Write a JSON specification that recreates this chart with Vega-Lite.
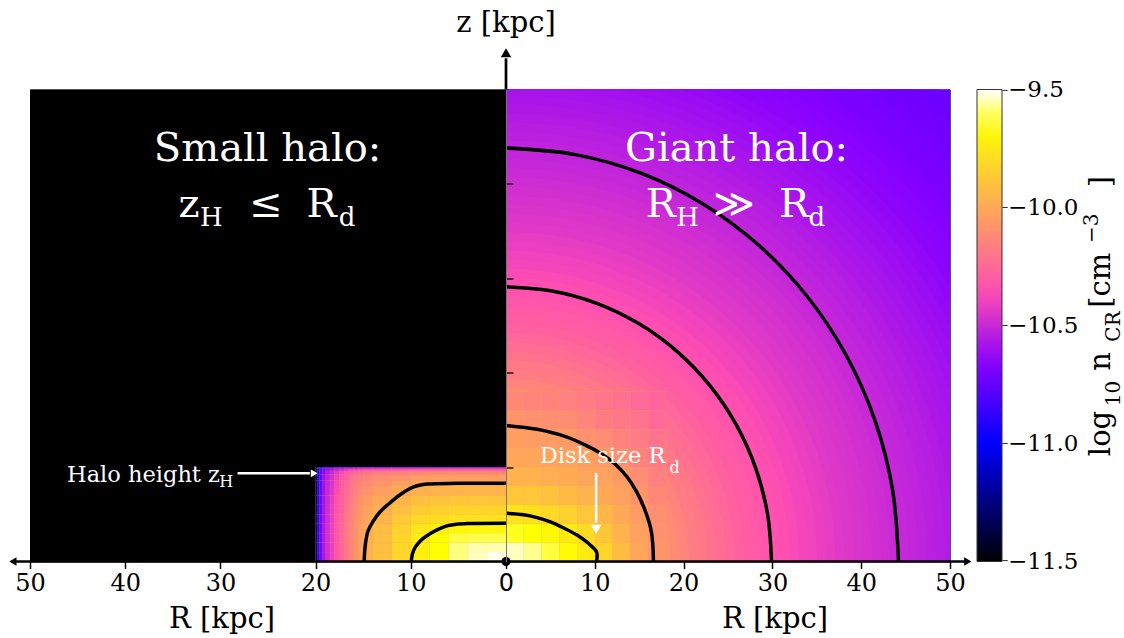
{
"$schema":"https://vega.github.io/schema/vega-lite/v6.json",
"width":920,"height":472,
"autosize":{"type":"none"},
"padding":{"left":30,"top":89.5,"right":174,"bottom":76.5},
"background":"white",
"config":{"view":{"stroke":"#555","strokeWidth":1},"axis":{"grid":false}},
"datasets":{
"panel":[{"R0":-50,"R1":0,"z0":0,"z1":50}],
"rings":[{"r":72,"v":-10.738},{"r":71,"v":-10.733},{"r":70,"v":-10.728},{"r":69,"v":-10.723},{"r":68,"v":-10.718},{"r":67,"v":-10.713},{"r":66,"v":-10.706},{"r":65,"v":-10.699},{"r":64,"v":-10.693},{"r":63,"v":-10.688},{"r":62,"v":-10.675},{"r":61,"v":-10.665},{"r":60,"v":-10.658},{"r":59,"v":-10.653},{"r":58,"v":-10.645},{"r":57,"v":-10.635},{"r":56,"v":-10.625},{"r":55,"v":-10.615},{"r":54,"v":-10.605},{"r":53,"v":-10.595},{"r":52,"v":-10.585},{"r":51,"v":-10.575},{"r":50,"v":-10.565},{"r":49,"v":-10.555},{"r":48,"v":-10.545},{"r":47,"v":-10.535},{"r":46,"v":-10.525},{"r":45,"v":-10.515},{"r":44,"v":-10.505},{"r":43,"v":-10.495},{"r":42,"v":-10.485},{"r":41,"v":-10.475},{"r":40,"v":-10.465},{"r":39,"v":-10.455},{"r":38,"v":-10.445},{"r":37,"v":-10.438},{"r":36,"v":-10.423},{"r":35,"v":-10.413},{"r":34,"v":-10.398},{"r":33,"v":-10.388},{"r":32,"v":-10.373},{"r":31,"v":-10.358},{"r":30,"v":-10.343},{"r":29,"v":-10.328},{"r":28,"v":-10.313},{"r":27,"v":-10.298},{"r":26,"v":-10.28},{"r":25,"v":-10.26},{"r":24,"v":-10.238},{"r":23,"v":-10.213},{"r":22,"v":-10.19},{"r":21,"v":-10.17},{"r":20,"v":-10.145},{"r":19,"v":-10.115},{"r":18,"v":-10.085}],
"core":[
{"R0":0,"R1":18,"z0":0,"z1":18,"v":-10.0},
{"R0":0,"R1":2,"z0":0,"z1":2,"v":-9.54},{"R0":2,"R1":4,"z0":0,"z1":2,"v":-9.57},{"R0":4,"R1":6,"z0":0,"z1":2,"v":-9.62},{"R0":6,"R1":8,"z0":0,"z1":2,"v":-9.68},{"R0":8,"R1":10,"z0":0,"z1":2,"v":-9.74},{"R0":10,"R1":12,"z0":0,"z1":2,"v":-9.83},{"R0":12,"R1":14,"z0":0,"z1":2,"v":-9.92},{"R0":14,"R1":16,"z0":0,"z1":2,"v":-10.01},{"R0":16,"R1":18,"z0":0,"z1":2,"v":-10.08},
{"R0":0,"R1":2,"z0":2,"z1":4,"v":-9.64},{"R0":2,"R1":4,"z0":2,"z1":4,"v":-9.66},{"R0":4,"R1":6,"z0":2,"z1":4,"v":-9.69},{"R0":6,"R1":8,"z0":2,"z1":4,"v":-9.74},{"R0":8,"R1":10,"z0":2,"z1":4,"v":-9.80},{"R0":10,"R1":12,"z0":2,"z1":4,"v":-9.88},{"R0":12,"R1":14,"z0":2,"z1":4,"v":-9.96},{"R0":14,"R1":16,"z0":2,"z1":4,"v":-10.03},{"R0":16,"R1":18,"z0":2,"z1":4,"v":-10.09},
{"R0":0,"R1":2,"z0":4,"z1":6,"v":-9.77},{"R0":2,"R1":4,"z0":4,"z1":6,"v":-9.78},{"R0":4,"R1":6,"z0":4,"z1":6,"v":-9.81},{"R0":6,"R1":8,"z0":4,"z1":6,"v":-9.84},{"R0":8,"R1":10,"z0":4,"z1":6,"v":-9.89},{"R0":10,"R1":12,"z0":4,"z1":6,"v":-9.94},{"R0":12,"R1":14,"z0":4,"z1":6,"v":-10.0},{"R0":14,"R1":16,"z0":4,"z1":6,"v":-10.05},{"R0":16,"R1":18,"z0":4,"z1":6,"v":-10.10},
{"R0":0,"R1":2,"z0":6,"z1":8,"v":-9.88},{"R0":2,"R1":4,"z0":6,"z1":8,"v":-9.89},{"R0":4,"R1":6,"z0":6,"z1":8,"v":-9.90},{"R0":6,"R1":8,"z0":6,"z1":8,"v":-9.93},{"R0":8,"R1":10,"z0":6,"z1":8,"v":-9.96},{"R0":10,"R1":12,"z0":6,"z1":8,"v":-10.0},{"R0":12,"R1":14,"z0":6,"z1":8,"v":-10.03},{"R0":14,"R1":16,"z0":6,"z1":8,"v":-10.08},{"R0":16,"R1":18,"z0":6,"z1":8,"v":-10.13},
{"R0":0,"R1":2,"z0":8,"z1":10,"v":-9.96},{"R0":2,"R1":4,"z0":8,"z1":10,"v":-9.96},{"R0":4,"R1":6,"z0":8,"z1":10,"v":-9.98},{"R0":6,"R1":8,"z0":8,"z1":10,"v":-9.99},{"R0":8,"R1":10,"z0":8,"z1":10,"v":-10.01},{"R0":10,"R1":12,"z0":8,"z1":10,"v":-10.03},{"R0":12,"R1":14,"z0":8,"z1":10,"v":-10.06},{"R0":14,"R1":16,"z0":8,"z1":10,"v":-10.11},{"R0":16,"R1":18,"z0":8,"z1":10,"v":-10.16},
{"R0":0,"R1":2,"z0":10,"z1":12,"v":-10.01},{"R0":2,"R1":4,"z0":10,"z1":12,"v":-10.01},{"R0":4,"R1":6,"z0":10,"z1":12,"v":-10.02},{"R0":6,"R1":8,"z0":10,"z1":12,"v":-10.03},{"R0":8,"R1":10,"z0":10,"z1":12,"v":-10.04},{"R0":10,"R1":12,"z0":10,"z1":12,"v":-10.06},{"R0":12,"R1":14,"z0":10,"z1":12,"v":-10.10},{"R0":14,"R1":16,"z0":10,"z1":12,"v":-10.15},{"R0":16,"R1":18,"z0":10,"z1":12,"v":-10.18},
{"R0":0,"R1":2,"z0":12,"z1":14,"v":-10.04},{"R0":2,"R1":4,"z0":12,"z1":14,"v":-10.05},{"R0":4,"R1":6,"z0":12,"z1":14,"v":-10.05},{"R0":6,"R1":8,"z0":12,"z1":14,"v":-10.06},{"R0":8,"R1":10,"z0":12,"z1":14,"v":-10.09},{"R0":10,"R1":12,"z0":12,"z1":14,"v":-10.11},{"R0":12,"R1":14,"z0":12,"z1":14,"v":-10.15},{"R0":14,"R1":16,"z0":12,"z1":14,"v":-10.18},{"R0":16,"R1":18,"z0":12,"z1":14,"v":-10.21},
{"R0":0,"R1":2,"z0":14,"z1":16,"v":-10.08},{"R0":2,"R1":4,"z0":14,"z1":16,"v":-10.09},{"R0":4,"R1":6,"z0":14,"z1":16,"v":-10.10},{"R0":6,"R1":8,"z0":14,"z1":16,"v":-10.11},{"R0":8,"R1":10,"z0":14,"z1":16,"v":-10.14},{"R0":10,"R1":12,"z0":14,"z1":16,"v":-10.17},{"R0":12,"R1":14,"z0":14,"z1":16,"v":-10.19},{"R0":14,"R1":16,"z0":14,"z1":16,"v":-10.21},{"R0":16,"R1":18,"z0":14,"z1":16,"v":-10.25},
{"R0":0,"R1":2,"z0":16,"z1":18,"v":-10.13},{"R0":2,"R1":4,"z0":16,"z1":18,"v":-10.14},{"R0":4,"R1":6,"z0":16,"z1":18,"v":-10.15},{"R0":6,"R1":8,"z0":16,"z1":18,"v":-10.16},{"R0":8,"R1":10,"z0":16,"z1":18,"v":-10.18},{"R0":10,"R1":12,"z0":16,"z1":18,"v":-10.20},{"R0":12,"R1":14,"z0":16,"z1":18,"v":-10.22},{"R0":14,"R1":16,"z0":16,"z1":18,"v":-10.25},{"R0":16,"R1":18,"z0":16,"z1":18,"v":-10.27}
],
"halo":[
{"R0":-20,"R1":0,"z0":0,"z1":10,"v":-10.05},
{"R0":-2,"R1":0,"z0":0,"z1":1,"v":-9.51},{"R0":-4,"R1":-2,"z0":0,"z1":1,"v":-9.54},{"R0":-6,"R1":-4,"z0":0,"z1":1,"v":-9.58},{"R0":-8,"R1":-6,"z0":0,"z1":1,"v":-9.66},{"R0":-10,"R1":-8,"z0":0,"z1":1,"v":-9.72},{"R0":-12,"R1":-10,"z0":0,"z1":1,"v":-9.82},{"R0":-14,"R1":-12,"z0":0,"z1":1,"v":-9.91},
{"R0":-14.5,"R1":-14,"z0":0,"z1":1,"v":-9.97},{"R0":-15,"R1":-14.5,"z0":0,"z1":1,"v":-9.99},{"R0":-15.5,"R1":-15,"z0":0,"z1":1,"v":-10.03},{"R0":-16,"R1":-15.5,"z0":0,"z1":1,"v":-10.08},{"R0":-16.5,"R1":-16,"z0":0,"z1":1,"v":-10.13},{"R0":-17,"R1":-16.5,"z0":0,"z1":1,"v":-10.19},{"R0":-17.5,"R1":-17,"z0":0,"z1":1,"v":-10.26},{"R0":-18,"R1":-17.5,"z0":0,"z1":1,"v":-10.33},{"R0":-18.5,"R1":-18,"z0":0,"z1":1,"v":-10.40},{"R0":-19,"R1":-18.5,"z0":0,"z1":1,"v":-10.48},{"R0":-19.3,"R1":-19,"z0":0,"z1":1,"v":-10.58},{"R0":-19.6,"R1":-19.3,"z0":0,"z1":1,"v":-10.70},{"R0":-19.8,"R1":-19.6,"z0":0,"z1":1,"v":-10.91},{"R0":-20,"R1":-19.8,"z0":0,"z1":1,"v":-11.25},
{"R0":-2,"R1":0,"z0":1,"z1":2,"v":-9.55},{"R0":-4,"R1":-2,"z0":1,"z1":2,"v":-9.55},{"R0":-6,"R1":-4,"z0":1,"z1":2,"v":-9.58},{"R0":-8,"R1":-6,"z0":1,"z1":2,"v":-9.66},{"R0":-10,"R1":-8,"z0":1,"z1":2,"v":-9.72},{"R0":-12,"R1":-10,"z0":1,"z1":2,"v":-9.82},{"R0":-14,"R1":-12,"z0":1,"z1":2,"v":-9.91},
{"R0":-14.5,"R1":-14,"z0":1,"z1":2,"v":-9.97},{"R0":-15,"R1":-14.5,"z0":1,"z1":2,"v":-9.99},{"R0":-15.5,"R1":-15,"z0":1,"z1":2,"v":-10.03},{"R0":-16,"R1":-15.5,"z0":1,"z1":2,"v":-10.08},{"R0":-16.5,"R1":-16,"z0":1,"z1":2,"v":-10.13},{"R0":-17,"R1":-16.5,"z0":1,"z1":2,"v":-10.19},{"R0":-17.5,"R1":-17,"z0":1,"z1":2,"v":-10.26},{"R0":-18,"R1":-17.5,"z0":1,"z1":2,"v":-10.33},{"R0":-18.5,"R1":-18,"z0":1,"z1":2,"v":-10.40},{"R0":-19,"R1":-18.5,"z0":1,"z1":2,"v":-10.48},{"R0":-19.3,"R1":-19,"z0":1,"z1":2,"v":-10.58},{"R0":-19.6,"R1":-19.3,"z0":1,"z1":2,"v":-10.70},{"R0":-19.8,"R1":-19.6,"z0":1,"z1":2,"v":-10.91},{"R0":-20,"R1":-19.8,"z0":1,"z1":2,"v":-11.25},
{"R0":-2,"R1":0,"z0":2,"z1":3,"v":-9.61},{"R0":-4,"R1":-2,"z0":2,"z1":3,"v":-9.61},{"R0":-6,"R1":-4,"z0":2,"z1":3,"v":-9.62},{"R0":-8,"R1":-6,"z0":2,"z1":3,"v":-9.67},{"R0":-10,"R1":-8,"z0":2,"z1":3,"v":-9.73},{"R0":-12,"R1":-10,"z0":2,"z1":3,"v":-9.82},{"R0":-14,"R1":-12,"z0":2,"z1":3,"v":-9.91},
{"R0":-14.5,"R1":-14,"z0":2,"z1":3,"v":-9.97},{"R0":-15,"R1":-14.5,"z0":2,"z1":3,"v":-9.99},{"R0":-15.5,"R1":-15,"z0":2,"z1":3,"v":-10.03},{"R0":-16,"R1":-15.5,"z0":2,"z1":3,"v":-10.08},{"R0":-16.5,"R1":-16,"z0":2,"z1":3,"v":-10.13},{"R0":-17,"R1":-16.5,"z0":2,"z1":3,"v":-10.19},{"R0":-17.5,"R1":-17,"z0":2,"z1":3,"v":-10.26},{"R0":-18,"R1":-17.5,"z0":2,"z1":3,"v":-10.33},{"R0":-18.5,"R1":-18,"z0":2,"z1":3,"v":-10.40},{"R0":-19,"R1":-18.5,"z0":2,"z1":3,"v":-10.48},{"R0":-19.3,"R1":-19,"z0":2,"z1":3,"v":-10.58},{"R0":-19.6,"R1":-19.3,"z0":2,"z1":3,"v":-10.70},{"R0":-19.8,"R1":-19.6,"z0":2,"z1":3,"v":-10.91},{"R0":-20,"R1":-19.8,"z0":2,"z1":3,"v":-11.25},
{"R0":-2,"R1":0,"z0":3,"z1":4,"v":-9.69},{"R0":-4,"R1":-2,"z0":3,"z1":4,"v":-9.69},{"R0":-6,"R1":-4,"z0":3,"z1":4,"v":-9.69},{"R0":-8,"R1":-6,"z0":3,"z1":4,"v":-9.72},{"R0":-10,"R1":-8,"z0":3,"z1":4,"v":-9.76},{"R0":-12,"R1":-10,"z0":3,"z1":4,"v":-9.84},{"R0":-14,"R1":-12,"z0":3,"z1":4,"v":-9.92},
{"R0":-14.5,"R1":-14,"z0":3,"z1":4,"v":-9.98},{"R0":-15,"R1":-14.5,"z0":3,"z1":4,"v":-10.0},{"R0":-15.5,"R1":-15,"z0":3,"z1":4,"v":-10.03},{"R0":-16,"R1":-15.5,"z0":3,"z1":4,"v":-10.08},{"R0":-16.5,"R1":-16,"z0":3,"z1":4,"v":-10.14},{"R0":-17,"R1":-16.5,"z0":3,"z1":4,"v":-10.19},{"R0":-17.5,"R1":-17,"z0":3,"z1":4,"v":-10.26},{"R0":-18,"R1":-17.5,"z0":3,"z1":4,"v":-10.33},{"R0":-18.5,"R1":-18,"z0":3,"z1":4,"v":-10.40},{"R0":-19,"R1":-18.5,"z0":3,"z1":4,"v":-10.48},{"R0":-19.3,"R1":-19,"z0":3,"z1":4,"v":-10.58},{"R0":-19.6,"R1":-19.3,"z0":3,"z1":4,"v":-10.70},{"R0":-19.8,"R1":-19.6,"z0":3,"z1":4,"v":-10.91},{"R0":-20,"R1":-19.8,"z0":3,"z1":4,"v":-11.25},
{"R0":-2,"R1":0,"z0":4,"z1":5,"v":-9.77},{"R0":-4,"R1":-2,"z0":4,"z1":5,"v":-9.77},{"R0":-6,"R1":-4,"z0":4,"z1":5,"v":-9.77},{"R0":-8,"R1":-6,"z0":4,"z1":5,"v":-9.79},{"R0":-10,"R1":-8,"z0":4,"z1":5,"v":-9.81},{"R0":-12,"R1":-10,"z0":4,"z1":5,"v":-9.87},{"R0":-14,"R1":-12,"z0":4,"z1":5,"v":-9.95},
{"R0":-14.5,"R1":-14,"z0":4,"z1":5,"v":-9.99},{"R0":-15,"R1":-14.5,"z0":4,"z1":5,"v":-10.02},{"R0":-15.5,"R1":-15,"z0":4,"z1":5,"v":-10.05},{"R0":-16,"R1":-15.5,"z0":4,"z1":5,"v":-10.09},{"R0":-16.5,"R1":-16,"z0":4,"z1":5,"v":-10.15},{"R0":-17,"R1":-16.5,"z0":4,"z1":5,"v":-10.20},{"R0":-17.5,"R1":-17,"z0":4,"z1":5,"v":-10.27},{"R0":-18,"R1":-17.5,"z0":4,"z1":5,"v":-10.33},{"R0":-18.5,"R1":-18,"z0":4,"z1":5,"v":-10.41},{"R0":-19,"R1":-18.5,"z0":4,"z1":5,"v":-10.49},{"R0":-19.3,"R1":-19,"z0":4,"z1":5,"v":-10.59},{"R0":-19.6,"R1":-19.3,"z0":4,"z1":5,"v":-10.70},{"R0":-19.8,"R1":-19.6,"z0":4,"z1":5,"v":-10.91},{"R0":-20,"R1":-19.8,"z0":4,"z1":5,"v":-11.25},
{"R0":-2,"R1":0,"z0":5,"z1":6,"v":-9.83},{"R0":-4,"R1":-2,"z0":5,"z1":6,"v":-9.83},{"R0":-6,"R1":-4,"z0":5,"z1":6,"v":-9.83},{"R0":-8,"R1":-6,"z0":5,"z1":6,"v":-9.84},{"R0":-10,"R1":-8,"z0":5,"z1":6,"v":-9.86},{"R0":-12,"R1":-10,"z0":5,"z1":6,"v":-9.91},{"R0":-14,"R1":-12,"z0":5,"z1":6,"v":-9.97},
{"R0":-14.5,"R1":-14,"z0":5,"z1":6,"v":-10.02},{"R0":-15,"R1":-14.5,"z0":5,"z1":6,"v":-10.03},{"R0":-15.5,"R1":-15,"z0":5,"z1":6,"v":-10.07},{"R0":-16,"R1":-15.5,"z0":5,"z1":6,"v":-10.11},{"R0":-16.5,"R1":-16,"z0":5,"z1":6,"v":-10.16},{"R0":-17,"R1":-16.5,"z0":5,"z1":6,"v":-10.21},{"R0":-17.5,"R1":-17,"z0":5,"z1":6,"v":-10.28},{"R0":-18,"R1":-17.5,"z0":5,"z1":6,"v":-10.34},{"R0":-18.5,"R1":-18,"z0":5,"z1":6,"v":-10.41},{"R0":-19,"R1":-18.5,"z0":5,"z1":6,"v":-10.49},{"R0":-19.3,"R1":-19,"z0":5,"z1":6,"v":-10.59},{"R0":-19.6,"R1":-19.3,"z0":5,"z1":6,"v":-10.71},{"R0":-19.8,"R1":-19.6,"z0":5,"z1":6,"v":-10.92},{"R0":-20,"R1":-19.8,"z0":5,"z1":6,"v":-11.26},
{"R0":-2,"R1":0,"z0":6,"z1":7,"v":-9.89},{"R0":-4,"R1":-2,"z0":6,"z1":7,"v":-9.89},{"R0":-6,"R1":-4,"z0":6,"z1":7,"v":-9.89},{"R0":-8,"R1":-6,"z0":6,"z1":7,"v":-9.90},{"R0":-10,"R1":-8,"z0":6,"z1":7,"v":-9.91},{"R0":-12,"R1":-10,"z0":6,"z1":7,"v":-9.95},{"R0":-14,"R1":-12,"z0":6,"z1":7,"v":-10.0},
{"R0":-14.5,"R1":-14,"z0":6,"z1":7,"v":-10.04},{"R0":-15,"R1":-14.5,"z0":6,"z1":7,"v":-10.06},{"R0":-15.5,"R1":-15,"z0":6,"z1":7,"v":-10.09},{"R0":-16,"R1":-15.5,"z0":6,"z1":7,"v":-10.13},{"R0":-16.5,"R1":-16,"z0":6,"z1":7,"v":-10.18},{"R0":-17,"R1":-16.5,"z0":6,"z1":7,"v":-10.23},{"R0":-17.5,"R1":-17,"z0":6,"z1":7,"v":-10.29},{"R0":-18,"R1":-17.5,"z0":6,"z1":7,"v":-10.35},{"R0":-18.5,"R1":-18,"z0":6,"z1":7,"v":-10.42},{"R0":-19,"R1":-18.5,"z0":6,"z1":7,"v":-10.50},{"R0":-19.3,"R1":-19,"z0":6,"z1":7,"v":-10.60},{"R0":-19.6,"R1":-19.3,"z0":6,"z1":7,"v":-10.71},{"R0":-19.8,"R1":-19.6,"z0":6,"z1":7,"v":-10.92},{"R0":-20,"R1":-19.8,"z0":6,"z1":7,"v":-11.26},
{"R0":-2,"R1":0,"z0":7,"z1":8,"v":-9.95},{"R0":-4,"R1":-2,"z0":7,"z1":8,"v":-9.95},{"R0":-6,"R1":-4,"z0":7,"z1":8,"v":-9.95},{"R0":-8,"R1":-6,"z0":7,"z1":8,"v":-9.96},{"R0":-10,"R1":-8,"z0":7,"z1":8,"v":-9.97},{"R0":-12,"R1":-10,"z0":7,"z1":8,"v":-10.0},{"R0":-14,"R1":-12,"z0":7,"z1":8,"v":-10.04},
{"R0":-14.5,"R1":-14,"z0":7,"z1":8,"v":-10.08},{"R0":-15,"R1":-14.5,"z0":7,"z1":8,"v":-10.09},{"R0":-15.5,"R1":-15,"z0":7,"z1":8,"v":-10.12},{"R0":-16,"R1":-15.5,"z0":7,"z1":8,"v":-10.16},{"R0":-16.5,"R1":-16,"z0":7,"z1":8,"v":-10.20},{"R0":-17,"R1":-16.5,"z0":7,"z1":8,"v":-10.25},{"R0":-17.5,"R1":-17,"z0":7,"z1":8,"v":-10.30},{"R0":-18,"R1":-17.5,"z0":7,"z1":8,"v":-10.37},{"R0":-18.5,"R1":-18,"z0":7,"z1":8,"v":-10.44},{"R0":-19,"R1":-18.5,"z0":7,"z1":8,"v":-10.51},{"R0":-19.3,"R1":-19,"z0":7,"z1":8,"v":-10.61},{"R0":-19.6,"R1":-19.3,"z0":7,"z1":8,"v":-10.72},{"R0":-19.8,"R1":-19.6,"z0":7,"z1":8,"v":-10.93},{"R0":-20,"R1":-19.8,"z0":7,"z1":8,"v":-11.26},
{"R0":-2,"R1":0,"z0":8,"z1":8.6,"v":-10.0},{"R0":-4,"R1":-2,"z0":8,"z1":8.6,"v":-10.0},{"R0":-6,"R1":-4,"z0":8,"z1":8.6,"v":-10.0},{"R0":-8,"R1":-6,"z0":8,"z1":8.6,"v":-10.0},{"R0":-10,"R1":-8,"z0":8,"z1":8.6,"v":-10.01},{"R0":-12,"R1":-10,"z0":8,"z1":8.6,"v":-10.04},{"R0":-14,"R1":-12,"z0":8,"z1":8.6,"v":-10.08},
{"R0":-14.5,"R1":-14,"z0":8,"z1":8.6,"v":-10.11},{"R0":-15,"R1":-14.5,"z0":8,"z1":8.6,"v":-10.12},{"R0":-15.5,"R1":-15,"z0":8,"z1":8.6,"v":-10.14},{"R0":-16,"R1":-15.5,"z0":8,"z1":8.6,"v":-10.18},{"R0":-16.5,"R1":-16,"z0":8,"z1":8.6,"v":-10.22},{"R0":-17,"R1":-16.5,"z0":8,"z1":8.6,"v":-10.27},{"R0":-17.5,"R1":-17,"z0":8,"z1":8.6,"v":-10.32},{"R0":-18,"R1":-17.5,"z0":8,"z1":8.6,"v":-10.38},{"R0":-18.5,"R1":-18,"z0":8,"z1":8.6,"v":-10.45},{"R0":-19,"R1":-18.5,"z0":8,"z1":8.6,"v":-10.52},{"R0":-19.3,"R1":-19,"z0":8,"z1":8.6,"v":-10.61},{"R0":-19.6,"R1":-19.3,"z0":8,"z1":8.6,"v":-10.73},{"R0":-19.8,"R1":-19.6,"z0":8,"z1":8.6,"v":-10.93},{"R0":-20,"R1":-19.8,"z0":8,"z1":8.6,"v":-11.26},
{"R0":-2,"R1":0,"z0":8.6,"z1":9.2,"v":-10.04},{"R0":-4,"R1":-2,"z0":8.6,"z1":9.2,"v":-10.04},{"R0":-6,"R1":-4,"z0":8.6,"z1":9.2,"v":-10.04},{"R0":-8,"R1":-6,"z0":8.6,"z1":9.2,"v":-10.04},{"R0":-10,"R1":-8,"z0":8.6,"z1":9.2,"v":-10.05},{"R0":-12,"R1":-10,"z0":8.6,"z1":9.2,"v":-10.08},{"R0":-14,"R1":-12,"z0":8.6,"z1":9.2,"v":-10.11},
{"R0":-14.5,"R1":-14,"z0":8.6,"z1":9.2,"v":-10.14},{"R0":-15,"R1":-14.5,"z0":8.6,"z1":9.2,"v":-10.15},{"R0":-15.5,"R1":-15,"z0":8.6,"z1":9.2,"v":-10.17},{"R0":-16,"R1":-15.5,"z0":8.6,"z1":9.2,"v":-10.20},{"R0":-16.5,"R1":-16,"z0":8.6,"z1":9.2,"v":-10.24},{"R0":-17,"R1":-16.5,"z0":8.6,"z1":9.2,"v":-10.29},{"R0":-17.5,"R1":-17,"z0":8.6,"z1":9.2,"v":-10.34},{"R0":-18,"R1":-17.5,"z0":8.6,"z1":9.2,"v":-10.40},{"R0":-18.5,"R1":-18,"z0":8.6,"z1":9.2,"v":-10.46},{"R0":-19,"R1":-18.5,"z0":8.6,"z1":9.2,"v":-10.53},{"R0":-19.3,"R1":-19,"z0":8.6,"z1":9.2,"v":-10.62},{"R0":-19.6,"R1":-19.3,"z0":8.6,"z1":9.2,"v":-10.74},{"R0":-19.8,"R1":-19.6,"z0":8.6,"z1":9.2,"v":-10.94},{"R0":-20,"R1":-19.8,"z0":8.6,"z1":9.2,"v":-11.26},
{"R0":-2,"R1":0,"z0":9.2,"z1":9.6,"v":-10.13},{"R0":-4,"R1":-2,"z0":9.2,"z1":9.6,"v":-10.13},{"R0":-6,"R1":-4,"z0":9.2,"z1":9.6,"v":-10.13},{"R0":-8,"R1":-6,"z0":9.2,"z1":9.6,"v":-10.13},{"R0":-10,"R1":-8,"z0":9.2,"z1":9.6,"v":-10.14},{"R0":-12,"R1":-10,"z0":9.2,"z1":9.6,"v":-10.16},{"R0":-14,"R1":-12,"z0":9.2,"z1":9.6,"v":-10.18},
{"R0":-14.5,"R1":-14,"z0":9.2,"z1":9.6,"v":-10.21},{"R0":-15,"R1":-14.5,"z0":9.2,"z1":9.6,"v":-10.22},{"R0":-15.5,"R1":-15,"z0":9.2,"z1":9.6,"v":-10.23},{"R0":-16,"R1":-15.5,"z0":9.2,"z1":9.6,"v":-10.26},{"R0":-16.5,"R1":-16,"z0":9.2,"z1":9.6,"v":-10.29},{"R0":-17,"R1":-16.5,"z0":9.2,"z1":9.6,"v":-10.33},{"R0":-17.5,"R1":-17,"z0":9.2,"z1":9.6,"v":-10.38},{"R0":-18,"R1":-17.5,"z0":9.2,"z1":9.6,"v":-10.43},{"R0":-18.5,"R1":-18,"z0":9.2,"z1":9.6,"v":-10.49},{"R0":-19,"R1":-18.5,"z0":9.2,"z1":9.6,"v":-10.56},{"R0":-19.3,"R1":-19,"z0":9.2,"z1":9.6,"v":-10.65},{"R0":-19.6,"R1":-19.3,"z0":9.2,"z1":9.6,"v":-10.76},{"R0":-19.8,"R1":-19.6,"z0":9.2,"z1":9.6,"v":-10.95},{"R0":-20,"R1":-19.8,"z0":9.2,"z1":9.6,"v":-11.28},
{"R0":-2,"R1":0,"z0":9.6,"z1":9.85,"v":-10.30},{"R0":-4,"R1":-2,"z0":9.6,"z1":9.85,"v":-10.30},{"R0":-6,"R1":-4,"z0":9.6,"z1":9.85,"v":-10.30},{"R0":-8,"R1":-6,"z0":9.6,"z1":9.85,"v":-10.30},{"R0":-10,"R1":-8,"z0":9.6,"z1":9.85,"v":-10.31},{"R0":-12,"R1":-10,"z0":9.6,"z1":9.85,"v":-10.32},{"R0":-14,"R1":-12,"z0":9.6,"z1":9.85,"v":-10.33},
{"R0":-14.5,"R1":-14,"z0":9.6,"z1":9.85,"v":-10.35},{"R0":-15,"R1":-14.5,"z0":9.6,"z1":9.85,"v":-10.36},{"R0":-15.5,"R1":-15,"z0":9.6,"z1":9.85,"v":-10.37},{"R0":-16,"R1":-15.5,"z0":9.6,"z1":9.85,"v":-10.39},{"R0":-16.5,"R1":-16,"z0":9.6,"z1":9.85,"v":-10.41},{"R0":-17,"R1":-16.5,"z0":9.6,"z1":9.85,"v":-10.44},{"R0":-17.5,"R1":-17,"z0":9.6,"z1":9.85,"v":-10.48},{"R0":-18,"R1":-17.5,"z0":9.6,"z1":9.85,"v":-10.52},{"R0":-18.5,"R1":-18,"z0":9.6,"z1":9.85,"v":-10.57},{"R0":-19,"R1":-18.5,"z0":9.6,"z1":9.85,"v":-10.63},{"R0":-19.3,"R1":-19,"z0":9.6,"z1":9.85,"v":-10.71},{"R0":-19.6,"R1":-19.3,"z0":9.6,"z1":9.85,"v":-10.81},{"R0":-19.8,"R1":-19.6,"z0":9.6,"z1":9.85,"v":-10.99},{"R0":-20,"R1":-19.8,"z0":9.6,"z1":9.85,"v":-11.30},
{"R0":-2,"R1":0,"z0":9.85,"z1":10,"v":-10.60},{"R0":-4,"R1":-2,"z0":9.85,"z1":10,"v":-10.60},{"R0":-6,"R1":-4,"z0":9.85,"z1":10,"v":-10.60},{"R0":-8,"R1":-6,"z0":9.85,"z1":10,"v":-10.60},{"R0":-10,"R1":-8,"z0":9.85,"z1":10,"v":-10.60},{"R0":-12,"R1":-10,"z0":9.85,"z1":10,"v":-10.61},{"R0":-14,"R1":-12,"z0":9.85,"z1":10,"v":-10.62},
{"R0":-14.5,"R1":-14,"z0":9.85,"z1":10,"v":-10.63},{"R0":-15,"R1":-14.5,"z0":9.85,"z1":10,"v":-10.63},{"R0":-15.5,"R1":-15,"z0":9.85,"z1":10,"v":-10.64},{"R0":-16,"R1":-15.5,"z0":9.85,"z1":10,"v":-10.65},{"R0":-16.5,"R1":-16,"z0":9.85,"z1":10,"v":-10.67},{"R0":-17,"R1":-16.5,"z0":9.85,"z1":10,"v":-10.68},{"R0":-17.5,"R1":-17,"z0":9.85,"z1":10,"v":-10.71},{"R0":-18,"R1":-17.5,"z0":9.85,"z1":10,"v":-10.74},{"R0":-18.5,"R1":-18,"z0":9.85,"z1":10,"v":-10.77},{"R0":-19,"R1":-18.5,"z0":9.85,"z1":10,"v":-10.82},{"R0":-19.3,"R1":-19,"z0":9.85,"z1":10,"v":-10.87},{"R0":-19.6,"R1":-19.3,"z0":9.85,"z1":10,"v":-10.95},{"R0":-19.8,"R1":-19.6,"z0":9.85,"z1":10,"v":-11.11},{"R0":-20,"R1":-19.8,"z0":9.85,"z1":10,"v":-11.38}
],
"contours":[
{"c":"L1","R":0,"z":4.05},{"c":"L1","R":-4,"z":4.02},{"c":"L1","R":-5.2,"z":3.95},{"c":"L1","R":-6.1,"z":3.8},{"c":"L1","R":-6.9,"z":3.5},{"c":"L1","R":-7.9,"z":3.0},{"c":"L1","R":-8.7,"z":2.45},{"c":"L1","R":-9.25,"z":1.9},{"c":"L1","R":-9.6,"z":1.4},{"c":"L1","R":-9.85,"z":0.7},{"c":"L1","R":-9.95,"z":0},
{"c":"L2","R":0,"z":8.3},{"c":"L2","R":-5,"z":8.28},{"c":"L2","R":-8.3,"z":8.2},{"c":"L2","R":-9.7,"z":7.9},{"c":"L2","R":-11.1,"z":7.1},{"c":"L2","R":-12.2,"z":6.2},{"c":"L2","R":-13.2,"z":5.3},{"c":"L2","R":-14,"z":4.2},{"c":"L2","R":-14.5,"z":3.2},{"c":"L2","R":-14.75,"z":2.0},{"c":"L2","R":-14.85,"z":1.0},{"c":"L2","R":-14.9,"z":0},
{"c":"R1","R":0,"z":5.1},{"c":"R1","R":2,"z":4.95},{"c":"R1","R":3.5,"z":4.65},{"c":"R1","R":5,"z":4.2},{"c":"R1","R":6.5,"z":3.55},{"c":"R1","R":8,"z":2.8},{"c":"R1","R":9.3,"z":1.9},{"c":"R1","R":10.2,"z":1.0},{"c":"R1","R":10.2,"z":0},
{"c":"R2","R":0,"z":14.4},{"c":"R2","R":3.5,"z":14.0},{"c":"R2","R":6.8,"z":13.2},{"c":"R2","R":9,"z":12.3},{"c":"R2","R":10.6,"z":11.5},{"c":"R2","R":12.3,"z":10.3},{"c":"R2","R":13.6,"z":9.0},{"c":"R2","R":14.7,"z":7.4},{"c":"R2","R":15.5,"z":5.8},{"c":"R2","R":16.1,"z":4.2},{"c":"R2","R":16.4,"z":3.0},{"c":"R2","R":16.55,"z":1.5},{"c":"R2","R":16.6,"z":0},
{"c":"R3","R":0,"z":29.1},{"c":"R3","R":5.19,"z":28.66},{"c":"R3","R":10.23,"z":27.35},{"c":"R3","R":14.95,"z":25.2},{"c":"R3","R":19.22,"z":22.29},{"c":"R3","R":22.9,"z":18.71},{"c":"R3","R":25.89,"z":14.55},{"c":"R3","R":28.1,"z":9.95},{"c":"R3","R":29.45,"z":5.05},{"c":"R3","R":29.9,"z":0},
{"c":"R4","R":0,"z":43.8},{"c":"R4","R":7.67,"z":43.13},{"c":"R4","R":15.12,"z":41.16},{"c":"R4","R":22.1,"z":37.93},{"c":"R4","R":28.41,"z":33.55},{"c":"R4","R":33.86,"z":28.15},{"c":"R4","R":38.28,"z":21.9},{"c":"R4","R":41.54,"z":14.98},{"c":"R4","R":43.53,"z":7.6},{"c":"R4","R":44.2,"z":0}
]
},
"layer":[
{"data":{"name":"panel"},"mark":{"type":"rect","color":"black"},
 "encoding":{
  "x":{"field":"R0","type":"quantitative","scale":{"domain":[-50,0,50],"range":[0,476,920],"nice":false,"zero":false},
   "axis":{"values":[-50,-40,-30,-20,-10,0,10,20,30,40,50],"labelExpr":"abs(datum.value)","title":null,"domain":false,"tickSize":7,"tickWidth":1.5,"tickColor":"black","labelFont":{"condition":{"test":"datum.value === 0","value":"DejaVu Sans"},"value":"DejaVu Serif"},"labelFontSize":24,"labelColor":"black","labelPadding":3,"labelFlush":false,"labelOverlap":false,"labelBound":false}},
  "x2":{"field":"R1"},
  "y":{"field":"z0","type":"quantitative","scale":{"domain":[0,50],"nice":false,"zero":false},
   "axis":{"orient":"left","offset":-476,"zindex":2,"values":[10,20,30,40],"labels":false,"tickSize":-7,"tickWidth":1.3,"tickColor":"black","domain":true,"domainColor":"#777","domainWidth":1,"title":null}},
  "y2":{"field":"z1"}}},
{"data":{"name":"rings"},"mark":{"type":"arc","theta":0,"theta2":1.5707963,"clip":true},
 "encoding":{
  "x":{"datum":0,"type":"quantitative","title":null},
  "y":{"datum":0,"type":"quantitative","title":null},
  "radius":{"field":"r","type":"quantitative","stack":null,"scale":{"type":"linear","domain":[0,72],"range":[0,659],"zero":true,"nice":false}},
  "color":{"field":"v","type":"quantitative","scale":{"type":"linear","domain":[-11.5,-11,-10.66,-10.36,-9.66,-9.5],"range":["#000000","#0000ff","#8800ff","#ff4db3","#ffff00","#ffffff"],"interpolate":"rgb","nice":false,"zero":false},
   "legend":{"type":"gradient","orient":"none","legendX":947,"legendY":0,"direction":"vertical","gradientLength":472,"gradientThickness":25,"title":null,"values":[-11.5,-11,-10.5,-10,-9.5],"format":".1f","labelFont":"DejaVu Serif","labelFontSize":23,"labelColor":"black","labelOffset":6,"labelBaseline":"middle","labelOverlap":false,"gradientStrokeColor":"#333","gradientStrokeWidth":1,"padding":0,"encode":{"labels":{"update":{"baseline":{"value":"middle"}}}}}}}},
{"data":{"name":"core"},"mark":{"type":"rect"},
 "encoding":{
  "x":{"field":"R0","type":"quantitative","title":null},"x2":{"field":"R1"},
  "y":{"field":"z0","type":"quantitative","title":null},"y2":{"field":"z1"},
  "color":{"field":"v","type":"quantitative","scale":{"type":"linear","domain":[-11.5,-11,-10.66,-10.36,-9.66,-9.5],"range":["#000000","#0000ff","#8800ff","#ff4db3","#ffff00","#ffffff"],"interpolate":"rgb","nice":false,"zero":false},
   "legend":{"type":"gradient","orient":"none","legendX":947,"legendY":0,"direction":"vertical","gradientLength":472,"gradientThickness":25,"title":null,"values":[-11.5,-11,-10.5,-10,-9.5],"format":".1f","labelFont":"DejaVu Serif","labelFontSize":23,"labelColor":"black","labelOffset":6,"labelBaseline":"middle","labelOverlap":false,"gradientStrokeColor":"#333","gradientStrokeWidth":1,"padding":0,"encode":{"labels":{"update":{"baseline":{"value":"middle"}}}}}}}},
{"data":{"name":"halo"},"mark":{"type":"rect"},
 "encoding":{
  "x":{"field":"R0","type":"quantitative","title":null},"x2":{"field":"R1"},
  "y":{"field":"z0","type":"quantitative","title":null},"y2":{"field":"z1"},
  "color":{"field":"v","type":"quantitative","scale":{"type":"linear","domain":[-11.5,-11,-10.66,-10.36,-9.66,-9.5],"range":["#000000","#0000ff","#8800ff","#ff4db3","#ffff00","#ffffff"],"interpolate":"rgb","nice":false,"zero":false},
   "legend":{"type":"gradient","orient":"none","legendX":947,"legendY":0,"direction":"vertical","gradientLength":472,"gradientThickness":25,"title":null,"values":[-11.5,-11,-10.5,-10,-9.5],"format":".1f","labelFont":"DejaVu Serif","labelFontSize":23,"labelColor":"black","labelOffset":6,"labelBaseline":"middle","labelOverlap":false,"gradientStrokeColor":"#333","gradientStrokeWidth":1,"padding":0,"encode":{"labels":{"update":{"baseline":{"value":"middle"}}}}}}}},
{"data":{"name":"contours"},"mark":{"type":"line","color":"black","strokeWidth":3.5,"strokeJoin":"round","interpolate":"catmull-rom"},
 "encoding":{
  "x":{"field":"R","type":"quantitative","title":null},
  "y":{"field":"z","type":"quantitative","title":null},
  "detail":{"field":"c","type":"nominal"},
  "order":{"value":null}}},
{"data":{"values":[{"a":-51.5,"b":51.7,"c":0,"d":0},{"a":0,"b":0,"c":50,"d":53.3}]},"mark":{"type":"rule","color":"black","strokeWidth":2.7},
 "encoding":{"x":{"field":"a","type":"quantitative","title":null},"x2":{"field":"b"},"y":{"field":"c","type":"quantitative","title":null},"y2":{"field":"d"}}},
{"data":{"values":[{"a":55.9,"b":56.5,"c":12.5,"d":12.5},{"a":55.9,"b":56.5,"c":25,"d":25},{"a":55.9,"b":56.5,"c":37.5,"d":37.5},{"a":55.9,"b":56.5,"c":0.1,"d":0.1},{"a":55.9,"b":56.5,"c":49.9,"d":49.9}]},"mark":{"type":"rule","color":"#333","strokeWidth":1},
 "encoding":{"x":{"field":"a","type":"quantitative","title":null},"x2":{"field":"b"},"y":{"field":"c","type":"quantitative","title":null},"y2":{"field":"d"}}},
{"data":{"values":[{"R":-51.8,"z":0}]},"mark":{"type":"point","shape":"triangle-left","filled":true,"color":"black","opacity":1,"size":70},
 "encoding":{"x":{"field":"R","type":"quantitative","title":null},"y":{"field":"z","type":"quantitative","title":null}}},
{"data":{"values":[{"R":52.0,"z":0}]},"mark":{"type":"point","shape":"triangle-right","filled":true,"color":"black","opacity":1,"size":70},
 "encoding":{"x":{"field":"R","type":"quantitative","title":null},"y":{"field":"z","type":"quantitative","title":null}}},
{"data":{"values":[{"R":0,"z":53.9}]},"mark":{"type":"point","shape":"triangle-up","filled":true,"color":"black","opacity":1,"size":110},
 "encoding":{"x":{"field":"R","type":"quantitative","title":null},"y":{"field":"z","type":"quantitative","title":null}}},
{"data":{"values":[{"R":0,"z":0}]},"mark":{"type":"point","shape":"circle","filled":true,"color":"black","opacity":1,"size":85},
 "encoding":{"x":{"field":"R","type":"quantitative","title":null},"y":{"field":"z","type":"quantitative","title":null}}},
{"data":{"values":[{"a":-28.2,"b":-20.6,"c":9.34,"d":9.34},{"a":10.15,"b":10.15,"c":9.38,"d":4.1}]},"mark":{"type":"rule","color":"white","strokeWidth":2.5},
 "encoding":{"x":{"field":"a","type":"quantitative","title":null},"x2":{"field":"b"},"y":{"field":"c","type":"quantitative","title":null},"y2":{"field":"d"}}},
{"data":{"values":[{"R":-20.15,"z":9.34}]},"mark":{"type":"point","shape":"triangle-right","filled":true,"color":"white","opacity":1,"size":60},
 "encoding":{"x":{"field":"R","type":"quantitative","title":null},"y":{"field":"z","type":"quantitative","title":null}}},
{"data":{"values":[{"R":10.15,"z":3.4}]},"mark":{"type":"point","shape":"triangle-down","filled":true,"color":"white","opacity":1,"size":110},
 "encoding":{"x":{"field":"R","type":"quantitative","title":null},"y":{"field":"z","type":"quantitative","title":null}}},
{"data":{"values":[{"t":"Small halo:","R":-25.05,"z":42.4},{"t":"Giant halo:","R":25.96,"z":42.4},{"t":"z","R":-33.3,"z":36.5},{"t":"≤","R":-25.2,"z":36.5},{"t":"R","R":-19.38,"z":36.5},{"t":"R","R":17.43,"z":36.5},{"t":"≫","R":25.7,"z":36.5},{"t":"R","R":32.45,"z":36.5}]},
 "mark":{"type":"text","font":"DejaVu Serif","fontSize":40,"align":"center","baseline":"alphabetic","color":"white"},
 "encoding":{"x":{"field":"R","type":"quantitative","title":null},"y":{"field":"z","type":"quantitative","title":null},"text":{"field":"t"}}},
{"data":{"values":[{"t":"H","R":-30.95,"z":35.5},{"t":"d","R":-16.7,"z":35.5},{"t":"H","R":20.44,"z":35.5},{"t":"d","R":35.0,"z":35.5}]},
 "mark":{"type":"text","font":"DejaVu Serif","fontSize":26,"align":"center","baseline":"alphabetic","color":"white"},
 "encoding":{"x":{"field":"R","type":"quantitative","title":null},"y":{"field":"z","type":"quantitative","title":null},"text":{"field":"t"}}},
{"data":{"values":[{"t":"Halo height z","R":-38.08,"z":8.45},{"t":"Disk size R","R":10.87,"z":10.4}]},
 "mark":{"type":"text","font":"DejaVu Serif","fontSize":22.5,"align":"center","baseline":"alphabetic","color":"white"},
 "encoding":{"x":{"field":"R","type":"quantitative","title":null},"y":{"field":"z","type":"quantitative","title":null},"text":{"field":"t"}}},
{"data":{"values":[{"t":"H","R":-29.4,"z":7.9},{"t":"d","R":19.0,"z":9.34}]},
 "mark":{"type":"text","font":"DejaVu Serif","fontSize":16,"align":"center","baseline":"alphabetic","color":"white"},
 "encoding":{"x":{"field":"R","type":"quantitative","title":null},"y":{"field":"z","type":"quantitative","title":null},"text":{"field":"t"}}},
{"data":{"values":[{"t":"R [kpc]","R":-29.83,"z":-7.08},{"t":"R [kpc]","R":30.3,"z":-7.08},{"t":"z [kpc]","R":0,"z":56.1}]},
 "mark":{"type":"text","font":"DejaVu Serif","fontSize":29,"align":"center","baseline":"alphabetic","color":"black"},
 "encoding":{"x":{"field":"R","type":"quantitative","title":null},"y":{"field":"z","type":"quantitative","title":null},"text":{"field":"t"}}},
{"data":{"values":[{"t":"log","R":68.0,"z":13.56},{"t":"n","R":68.0,"z":21.2},{"t":"[cm","R":68.0,"z":29.8},{"t":"]","R":68.0,"z":40.25}]},
 "mark":{"type":"text","font":"DejaVu Serif","fontSize":29,"align":"center","baseline":"alphabetic","angle":270,"color":"black"},
 "encoding":{"x":{"field":"R","type":"quantitative","title":null},"y":{"field":"z","type":"quantitative","title":null},"text":{"field":"t"}}},
{"data":{"values":[{"t":"10","R":69.1,"z":17.8},{"t":"CR","R":69.1,"z":24.9},{"t":"−3","R":66.7,"z":35.3}]},
 "mark":{"type":"text","font":"DejaVu Serif","fontSize":20,"align":"center","baseline":"alphabetic","angle":270,"color":"black"},
 "encoding":{"x":{"field":"R","type":"quantitative","title":null},"y":{"field":"z","type":"quantitative","title":null},"text":{"field":"t"}}}
]
}
